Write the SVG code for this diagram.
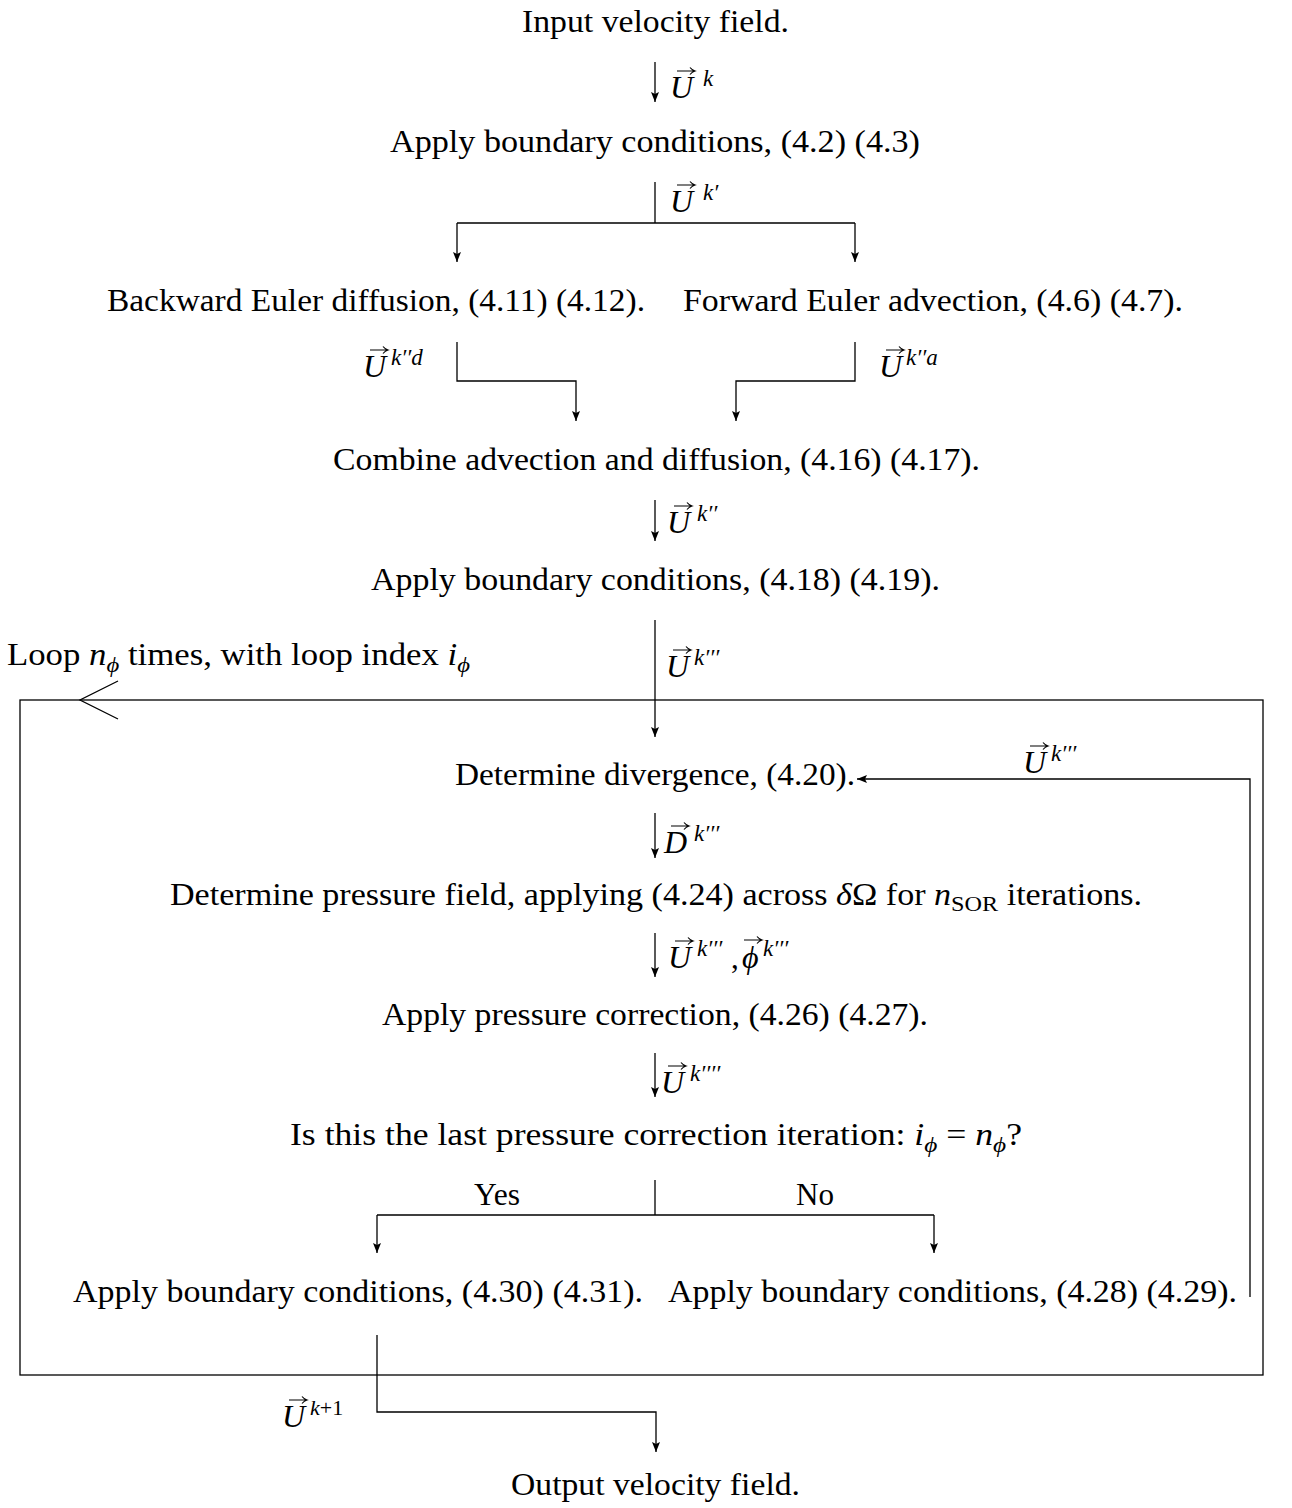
<svg xmlns="http://www.w3.org/2000/svg" xmlns:xlink="http://www.w3.org/1999/xlink" width="1292" height="1508" viewBox="0 0 1292 1508">
  <style>
    text { font-family: "Liberation Serif", "DejaVu Serif", serif; fill: #000; }
    .t { font-size: 31px; }
    .i { font-style: italic; }
    .m { font-size: 32px; font-style: italic; }
    .s { font-size: 23px; font-style: italic; }
    .sr { font-size: 22px; }
    .ln { fill: none; stroke: #000; stroke-width: 1.3; }
    .vec { fill: none; stroke: #000; stroke-width: 1.2; }
  </style>
  <defs>
    <marker id="ah" viewBox="0 0 10 8" refX="10" refY="4" markerWidth="10" markerHeight="8" markerUnits="userSpaceOnUse" orient="auto">
      <path d="M0,0 L10,4 L0,8 L2,4 Z" fill="#000"/>
    </marker>
    <!-- vector accent placed above a math symbol -->
    <path id="vec" class="vec" d="M0,0 H17 M13,-3.5 Q15,-1 18,0 Q15,1 13,3.5"/>
  </defs>

  <rect id="bg" x="0" y="0" width="1292" height="1508" fill="#fff"/>

  <!-- loop frame -->
  <g id="loop">
    <rect class="ln" x="20" y="700" width="1243" height="675"/>
    <path class="ln" d="M118,681 L80,700 L118,719"/>
    <text class="t" x="7" y="665" textLength="463" lengthAdjust="spacingAndGlyphs">Loop <tspan class="i">n</tspan><tspan dy="7" class="sr i">ϕ</tspan><tspan dy="-7"> times, with loop index </tspan><tspan class="i">i</tspan><tspan dy="7" class="sr i">ϕ</tspan></text>
  </g>

  <!-- connectors -->
  <g id="connectors">
    <path class="ln" d="M655,62 V102" marker-end="url(#ah)"/>
    <path class="ln" d="M655,182 V223 M457,223 H855"/>
    <path class="ln" d="M457,223 V262" marker-end="url(#ah)"/>
    <path class="ln" d="M855,223 V262" marker-end="url(#ah)"/>
    <path class="ln" d="M457,342 V381 H576 V421" marker-end="url(#ah)"/>
    <path class="ln" d="M855,342 V381 H736 V421" marker-end="url(#ah)"/>
    <path class="ln" d="M655,500 V541" marker-end="url(#ah)"/>
    <path class="ln" d="M655,620 V737" marker-end="url(#ah)"/>
    <path class="ln" d="M1250,1297 V779 H857" marker-end="url(#ah)"/>
    <path class="ln" d="M655,813 V858" marker-end="url(#ah)"/>
    <path class="ln" d="M655,933 V977" marker-end="url(#ah)"/>
    <path class="ln" d="M655,1053 V1097" marker-end="url(#ah)"/>
    <path class="ln" d="M655,1180 V1215 M377,1215 H934"/>
    <path class="ln" d="M377,1215 V1253" marker-end="url(#ah)"/>
    <path class="ln" d="M934,1215 V1253" marker-end="url(#ah)"/>
    <path class="ln" d="M377,1335 V1412 H656 V1452" marker-end="url(#ah)"/>

    <!-- connector labels -->
    <g id="lab-uk">
      <text class="m" x="670" y="98">U</text><use href="#vec" x="677" y="71"/>
      <text class="s" x="703" y="86">k</text>
    </g>
    <g id="lab-uk1">
      <text class="m" x="670" y="212">U</text><use href="#vec" x="677" y="185"/>
      <text class="s" x="703" y="200">k′</text>
    </g>
    <g id="lab-ukd">
      <text class="m" x="363" y="377">U</text><use href="#vec" x="370" y="350"/>
      <text class="s" x="391" y="365">k′′d</text>
    </g>
    <g id="lab-uka">
      <text class="m" x="879" y="377">U</text><use href="#vec" x="886" y="350"/>
      <text class="s" x="906" y="365">k′′a</text>
    </g>
    <g id="lab-uk2">
      <text class="m" x="667" y="533">U</text><use href="#vec" x="674" y="506"/>
      <text class="s" x="697" y="521">k′′</text>
    </g>
    <g id="lab-uk3">
      <text class="m" x="666" y="677">U</text><use href="#vec" x="673" y="650"/>
      <text class="s" x="694" y="665">k′′′</text>
    </g>
    <g id="lab-uk3-back">
      <text class="m" x="1023" y="773">U</text><use href="#vec" x="1030" y="746"/>
      <text class="s" x="1051" y="761">k′′′</text>
    </g>
    <g id="lab-dk3">
      <text class="m" x="664" y="853">D</text><use href="#vec" x="671" y="826"/>
      <text class="s" x="694" y="841">k′′′</text>
    </g>
    <g id="lab-uphi">
      <text class="m" x="668" y="968">U</text><use href="#vec" x="675" y="941"/>
      <text class="s" x="697" y="956">k′′′</text>
      <text class="t" x="731" y="968">,</text>
      <text class="m" x="742" y="968">ϕ</text><use href="#vec" x="744" y="940"/>
      <text class="s" x="763" y="956">k′′′</text>
    </g>
    <g id="lab-uk4">
      <text class="m" x="661" y="1093">U</text><use href="#vec" x="668" y="1066"/>
      <text class="s" x="690" y="1081">k′′′′</text>
    </g>
    <g id="lab-yes"><text class="t" x="474" y="1205" textLength="46" lengthAdjust="spacingAndGlyphs">Yes</text></g>
    <g id="lab-no"><text class="t" x="796" y="1205" textLength="38" lengthAdjust="spacingAndGlyphs">No</text></g>
    <g id="lab-uknext">
      <text class="m" x="282" y="1427">U</text><use href="#vec" x="289" y="1400"/>
      <text class="sr" x="310" y="1415"><tspan class="i">k</tspan>+1</text>
    </g>
  </g>

  <!-- steps -->
  <g id="n-input"><text class="t" x="522" y="32" textLength="267" lengthAdjust="spacingAndGlyphs">Input velocity field.</text></g>
  <g id="n-bc1"><text class="t" x="390" y="152" textLength="530" lengthAdjust="spacingAndGlyphs">Apply boundary conditions, (4.2) (4.3)</text></g>
  <g id="n-diffusion"><text class="t" x="107" y="311" textLength="538" lengthAdjust="spacingAndGlyphs">Backward Euler diffusion, (4.11) (4.12).</text></g>
  <g id="n-advection"><text class="t" x="683" y="311" textLength="500" lengthAdjust="spacingAndGlyphs">Forward Euler advection, (4.6) (4.7).</text></g>
  <g id="n-combine"><text class="t" x="333" y="470" textLength="647" lengthAdjust="spacingAndGlyphs">Combine advection and diffusion, (4.16) (4.17).</text></g>
  <g id="n-bc2"><text class="t" x="371" y="590" textLength="569" lengthAdjust="spacingAndGlyphs">Apply boundary conditions, (4.18) (4.19).</text></g>
  <g id="n-divergence"><text class="t" x="455" y="785" textLength="400" lengthAdjust="spacingAndGlyphs">Determine divergence, (4.20).</text></g>
  <g id="n-pressure">
    <text class="t" x="170" y="905" textLength="972" lengthAdjust="spacingAndGlyphs">Determine pressure field, applying (4.24) across <tspan class="i">δ</tspan>Ω for <tspan class="i">n</tspan><tspan dy="6" class="sr">SOR</tspan><tspan dy="-6"> iterations.</tspan></text>
  </g>
  <g id="n-correction"><text class="t" x="382" y="1025" textLength="546" lengthAdjust="spacingAndGlyphs">Apply pressure correction, (4.26) (4.27).</text></g>
  <g id="n-test">
    <text class="t" x="290" y="1145" textLength="732" lengthAdjust="spacingAndGlyphs">Is this the last pressure correction iteration: <tspan class="i">i</tspan><tspan dy="7" class="sr i">ϕ</tspan><tspan dy="-7"> = </tspan><tspan class="i">n</tspan><tspan dy="7" class="sr i">ϕ</tspan><tspan dy="-7">?</tspan></text>
  </g>
  <g id="n-bc-yes"><text class="t" x="73" y="1302" textLength="570" lengthAdjust="spacingAndGlyphs">Apply boundary conditions, (4.30) (4.31).</text></g>
  <g id="n-bc-no"><text class="t" x="668" y="1302" textLength="569" lengthAdjust="spacingAndGlyphs">Apply boundary conditions, (4.28) (4.29).</text></g>
  <g id="n-output"><text class="t" x="511" y="1495" textLength="289" lengthAdjust="spacingAndGlyphs">Output velocity field.</text></g>
</svg>
